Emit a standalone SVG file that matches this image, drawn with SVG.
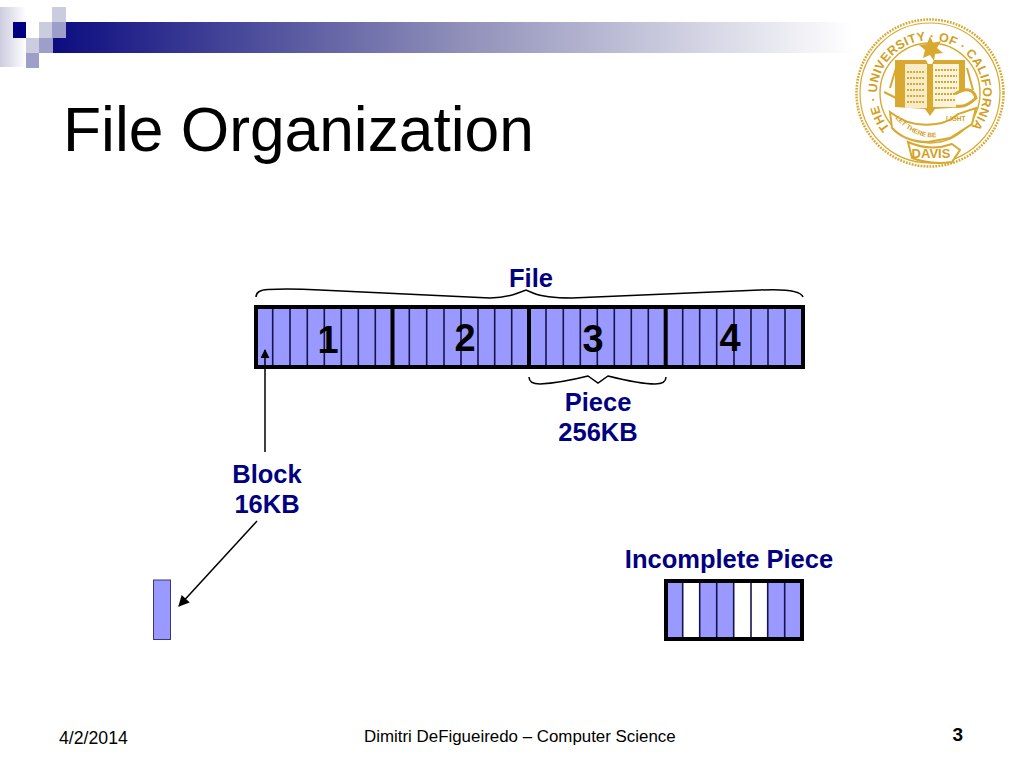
<svg xmlns="http://www.w3.org/2000/svg" width="1024" height="768" viewBox="0 0 1024 768">
<style>
.s{font-family:"Liberation Sans",Arial,sans-serif}
.l{font-size:25.5px;font-weight:bold;fill:#000080;text-anchor:middle}
.n{font-size:38px;font-weight:bold;fill:#000;text-anchor:middle}
.f{font-size:16.9px;fill:#000}
.cell{fill:#9999ff}
.thin{stroke:#14144a;stroke-width:1.6;fill:none}
.thick{stroke:#000;stroke-width:4;fill:none}
.brace{stroke:#000;stroke-width:1.5;fill:none}
.arrow{stroke:#000;stroke-width:1.5;fill:none}
.g{fill:#d9a92f}
.gl{stroke:#d9a92f;fill:none}
.sealtext{font-family:"Liberation Sans",Arial,sans-serif;font-weight:bold;fill:#d39f22}
</style>
<defs>
<linearGradient id="band" x1="0" x2="1" y1="0" y2="0"><stop offset="0" stop-color="#0c0c80"/><stop offset="0.5" stop-color="#8d8db8"/><stop offset="1" stop-color="#ffffff"/></linearGradient>
<linearGradient id="fade" x1="0" x2="1" y1="0" y2="0"><stop offset="0" stop-color="#ccccdf"/><stop offset="1" stop-color="#ffffff"/></linearGradient>
<marker id="ah" viewBox="0 0 10 10" refX="9" refY="5" markerWidth="9" markerHeight="9" markerUnits="userSpaceOnUse" orient="auto"><path d="M0 0L10 5L0 10Z" fill="#000"/></marker>
<marker id="ahl" viewBox="0 0 10 10" refX="9" refY="5" markerWidth="12" markerHeight="11" markerUnits="userSpaceOnUse" orient="auto"><path d="M0 0L10 5L0 10Z" fill="#000"/></marker>
<path id="sealArc" d="M890 128A53 53 0 1 1 970 128"/>
<path id="letArc" d="M890 112Q912 140 938 137"/>
</defs>
<rect width="1024" height="768" fill="#fff"/>
<g id="banner">
<rect x="53" y="22" width="800" height="31" fill="url(#band)"/>
<rect x="0" y="7" width="26" height="60" fill="url(#fade)"/>
<rect x="13" y="22" width="13" height="16" fill="#000080"/>
<rect x="26" y="38" width="13" height="15" fill="#ccccdf"/>
<rect x="26" y="53" width="13" height="15" fill="#9e9ecb"/>
<rect x="39" y="22" width="13" height="16" fill="#ccccdf"/>
<rect x="39" y="38" width="14" height="15" fill="#9e9ecb"/>
<rect x="52" y="7" width="14" height="15" fill="#ccccdf"/>
<rect x="52" y="22" width="14" height="16" fill="#9e9ecb"/>
</g>
<text id="title" class="s" x="63" y="151" font-size="62.3" fill="#000">File Organization</text>
<g id="seal">
<circle cx="930" cy="93" r="73.500" fill="#fff" stroke="#d9a92f" stroke-width="2.500" stroke-dasharray="1.8 1.2"/>
<circle cx="930" cy="93" r="70" class="gl" stroke-width="1.2"/>
<circle cx="930" cy="93" r="50" class="gl" stroke-width="1.4"/>
<text class="sealtext" font-size="12.500"><textPath href="#sealArc" textLength="240" lengthAdjust="spacing">THE · UNIVERSITY · OF · CALIFORNIA</textPath></text>
<path d="M890 88L896 68M967 68L973 90M884 92L896 98M968 100L976 94" stroke="#d9a92f" stroke-width="2" fill="none"/>
<path d="M930 36l3 7 8-2-4 7 6 5-8 1-1 7-4-6-7 3 2-8-6-5 8-1z" class="g"/>
<path d="M895 60L926 60L928 64L932 64L934 60L965 60L965 107L935 109L930 116L925 109L895 107Z" fill="#d9a92f"/>
<rect x="905" y="64" width="22" height="44" fill="#f6ecca"/>
<rect x="933" y="64" width="26" height="43" fill="#fbf4dc"/>
<path d="M907 72H925M907 78H925M907 84H925M907 90H925M907 96H925M907 102H925M935 70H957M935 76H957M935 82H957M935 88H957M935 94H957M935 100H957" stroke="#d9a92f" stroke-width="2" stroke-dasharray="2 1"/>
<path d="M890 112Q910 128 936 124Q950 122 958 114L976 108L972 124L950 138L928 142Q905 142 892 128Z" fill="#fff" stroke="#d9a92f" stroke-width="2"/>
<path d="M955 94Q972 84 976 98Q966 108 956 106" fill="#fff" stroke="#d9a92f" stroke-width="3"/>
<text class="sealtext" font-size="6.500"><textPath href="#letArc" startOffset="14%">LET THERE BE</textPath></text>
<text class="sealtext" x="946" y="121" font-size="6.500">LIGHT</text>
<path d="M908 142Q930 152 952 144L960 150L952 162Q930 165 912 158Z" fill="#fff" stroke="#d9a92f" stroke-width="2"/>
<text class="sealtext" x="931" y="158" font-size="13" text-anchor="middle" font-weight="normal">DAVIS</text>
</g>
<g id="file-label"><text class="s l" x="531" y="287">File</text></g>
<g id="file-bar">
<rect x="256" y="307" width="547" height="60" class="cell"/>
<path class="thin" d="M272.700 307V367M290 307V367M307.300 307V367M324.300 307V367M341.300 307V367M358.300 307V367M375.300 307V367M409.300 307V367M426.700 307V367M444 307V367M461 307V367M478 307V367M494.700 307V367M511.700 307V367M546 307V367M563.300 307V367M580.300 307V367M597.300 307V367M614.300 307V367M631.300 307V367M648.300 307V367M682.700 307V367M699.700 307V367M716.700 307V367M734 307V367M751 307V367M768 307V367M785 307V367"/>
<path class="thick" d="M392.500 307V367M529 307V367M665.700 307V367"/>
<rect x="256" y="307" width="547" height="60" class="thick"/>
<text class="s n" x="328" y="353">1</text>
<text class="s n" x="465" y="351">2</text>
<text class="s n" x="593" y="352">3</text>
<text class="s n" x="730" y="351">4</text>
</g>
<g id="piece-label"><text class="s l" x="598" y="411">Piece</text><text class="s l" x="598" y="441">256KB</text></g>
<g id="block-label"><text class="s l" x="267" y="483">Block</text><text class="s l" x="267" y="513">16KB</text></g>
<g id="incomplete-label"><text class="s l" x="729" y="568">Incomplete Piece</text></g>
<g id="incomplete-piece">
<rect x="666" y="581" width="136" height="58" class="cell"/>
<rect x="683" y="581" width="17" height="58" fill="#fff"/>
<rect x="734" y="581" width="34" height="58" fill="#fff"/>
<path class="thin" d="M682.700 581V639M699.700 581V639M716.700 581V639M733.700 581V639M751 581V639M767.700 581V639M784.700 581V639"/>
<rect x="666" y="581" width="136" height="58" class="thick"/>
</g>
<g id="block"><rect x="153.500" y="580" width="17" height="59.500" fill="#9999ff" stroke="#3a3a6a" stroke-width="1"/></g>
<g id="connectors">
<path class="brace" d="M256 297Q256 290 268 289.500Q290 288.500 320 290L490 298Q505 298 518 293L526 290L533 293Q545 298 572 298L760 290Q800 288 803 297"/>
<path class="brace" d="M529 377Q529 384 540 384Q560 383 588 376L598 383L608 376Q640 384 655 384Q666 384 666 377"/>
<path class="arrow" marker-end="url(#ah)" d="M265 452V350"/>
<path class="arrow" marker-end="url(#ahl)" d="M257 521L179 606"/>
</g>
<g id="footer">
<text class="s f" x="59" y="744" style="font-size:17.700px">4/2/2014</text>
<text class="s f" x="364" y="742">Dimitri DeFigueiredo – Computer Science</text>
<text class="s f" x="963" y="741" font-weight="bold" text-anchor="end" style="font-size:19px">3</text>
</g>
</svg>
